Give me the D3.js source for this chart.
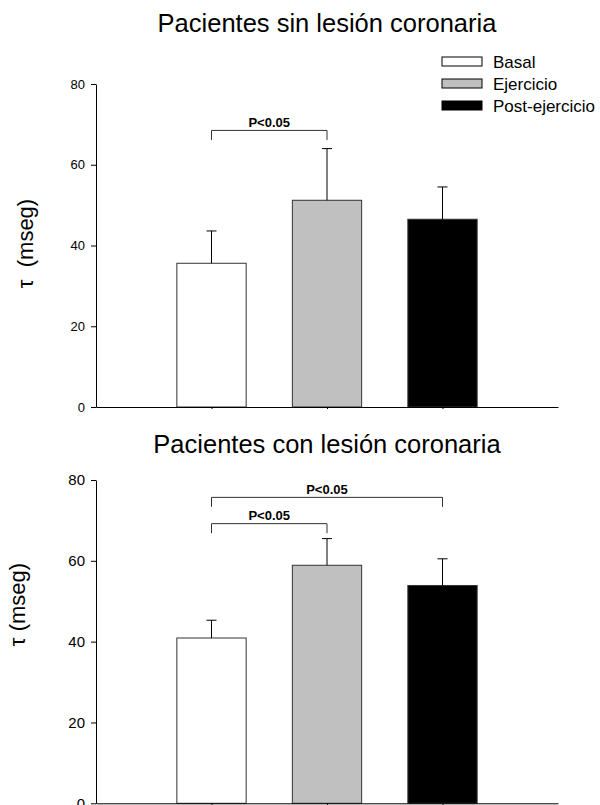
<!DOCTYPE html>
<html>
<head>
<meta charset="utf-8">
<script src="https://cdn.jsdelivr.net/npm/d3@7"></script>
<style>
  body { margin: 0; background: #fff; }
  svg { display: block; font-family: "Liberation Sans", Arial, sans-serif; }
</style>
</head>
<body>
<div id="chart"></div>
<script>
// data
const groups = ['Basal', 'Ejercicio', 'Post-ejercicio'];
const yTicks = [0, 20, 40, 60, 80];

const meanSin = [35.6, 51.2, 46.5];
const errSin = [8.0, 12.8, 8.0];
const sigSin = [{ from: 0, to: 1, y: 68.5, label: 'P<0.05' }];

const meanCon = [40.9, 58.9, 53.9];
const errCon = [4.4, 6.6, 6.6];
const sigCon = [
  { from: 0, to: 1, y: 69.2, label: 'P<0.05' },
  { from: 0, to: 2, y: 75.7, label: 'P<0.05' }
];

const fills = ['#ffffff', '#c0c0c0', '#000000'];

const width = 600, height = 805;
const svg = d3.select('#chart').append('svg')
  .attr('width', width)
  .attr('height', height);

// draw one panel
function drawPanel(opt) {
  const x = d3.scaleLinear().domain([0, groups.length + 1]).range([96, 558]);
  const y = d3.scaleLinear().domain([0, 80]).range([opt.y0, opt.y1]);
  const step = x(1) - x(0);
  const bw = step * 0.6;

  const g = svg.append('g');

  // title
  g.append('text')
    .attr('x', (x.range()[0] + x.range()[1]) / 2)
    .attr('y', opt.titleY)
    .attr('text-anchor', 'middle')
    .style('font-size', '25.5px')
    .text(opt.title);

  // y label
  g.append('text')
    .attr('transform', `translate(${opt.labelX},${opt.labelY}) rotate(-90)`)
    .attr('text-anchor', 'middle')
    .style('font-size', '22px')
    .style('white-space', 'pre')
    .text(opt.ylabel);

  // bars
  g.selectAll('rect.bar')
    .data(opt.means)
    .enter().append('rect')
    .attr('class', 'bar')
    .attr('x', (d, i) => x(i + 1) - bw / 2)
    .attr('y', d => y(d))
    .attr('width', bw)
    .attr('height', d => y(0) - y(d))
    .attr('fill', (d, i) => fills[i])
    .attr('stroke', '#333')
    .attr('stroke-width', 1);

  // error bars (upper only)
  opt.means.forEach((m, i) => {
    const cx = x(i + 1);
    const top = y(m + opt.errs[i]);
    g.append('line')
      .attr('x1', cx).attr('x2', cx)
      .attr('y1', y(m)).attr('y2', top)
      .attr('stroke', '#000');
    g.append('line')
      .attr('x1', cx - 5).attr('x2', cx + 5)
      .attr('y1', top).attr('y2', top)
      .attr('stroke', '#000');
  });

  // significance brackets
  opt.sig.forEach(s => {
    const xa = x(s.from + 1), xb = x(s.to + 1), yy = y(s.y);
    g.append('path')
      .attr('d', `M${xa},${yy + 9.5}V${yy}H${xb}V${yy + 9.5}`)
      .attr('fill', 'none')
      .attr('stroke', '#333');
    g.append('text')
      .attr('x', (xa + xb) / 2)
      .attr('y', yy - 3.5)
      .attr('text-anchor', 'middle')
      .style('font-size', '13px')
      .style('font-weight', 'bold')
      .text(s.label);
  });

  // axes
  const yAxis = g.append('g')
    .attr('transform', `translate(${x.range()[0]},0)`)
    .call(d3.axisLeft(y).tickValues(yTicks).tickSize(5).tickSizeOuter(0).tickPadding(6));
  yAxis.selectAll('text').style('font-size', opt.tickFont).style('font-family', 'inherit');

  g.append('g')
    .attr('transform', `translate(0,${y(0)})`)
    .call(d3.axisBottom(x).tickValues([1, 2, 3]).tickSize(2).tickSizeOuter(0).tickFormat(''));

  g.selectAll('.domain, .tick line').attr('stroke', '#000');

  // legend
  if (opt.legend) {
    const lg = g.append('g').attr('transform', 'translate(442,57)');
    groups.forEach((name, i) => {
      lg.append('rect')
        .attr('x', 0).attr('y', i * 22)
        .attr('width', 40).attr('height', 9)
        .attr('fill', fills[i])
        .attr('stroke', '#000');
      lg.append('text')
        .attr('x', 51).attr('y', i * 22 + 11)
        .style('font-size', '17px')
        .text(name);
    });
  }
}

drawPanel({
  title: 'Pacientes sin lesión coronaria', titleY: 32,
  ylabel: 'τ  (mseg)', labelX: 32.5, labelY: 243.5,
  y0: 407, y1: 84, means: meanSin, errs: errSin, sig: sigSin,
  tickFont: '13px', legend: true
});

drawPanel({
  title: 'Pacientes con lesión coronaria', titleY: 453,
  ylabel: 'τ (mseg)', labelX: 24.5, labelY: 604.5,
  y0: 803.3, y1: 480, means: meanCon, errs: errCon, sig: sigCon,
  tickFont: '15px', legend: false
});
</script>
</body>
</html>
